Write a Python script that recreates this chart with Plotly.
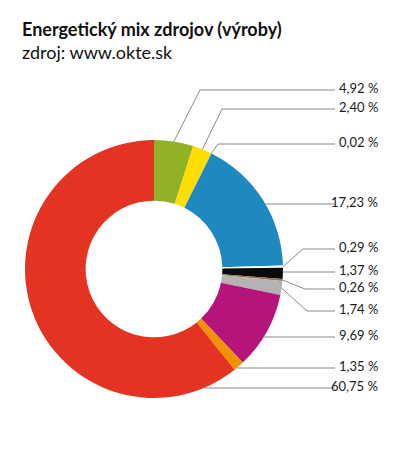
import math
import plotly.graph_objects as go

# ---- data ----
labels = ["4,92 %", "2,40 %", "0,02 %", "17,23 %", "0,29 %", "1,37 %",
          "0,26 %", "1,74 %", "9,69 %", "1,35 %", "60,75 %"]
values = [4.92, 2.40, 0.02, 17.23, 0.29, 1.37, 0.26, 1.74, 9.69, 1.35, 60.75]
colors = ["#93b127", "#ffdd00", "#6fb3d6", "#1f89bf", "#ffffff", "#0a0a0a",
          "#9a7440", "#b3b3b3", "#b5157b", "#f39200", "#e43323"]

# ---- layout (pixels) ----
W, H = 400, 450
CX, CY, R = 154, 269, 129
HOLE = 0.53
label_y = [90, 109, 144, 204, 249, 272, 289, 311, 337, 368, 388]
elbow_x = [200, 222, 218, None, 303, None, 305, 307, None, None, None]
LINE_END = 335
TEXT_RIGHT = 380

def px(x):
    return x / W

def py(y):
    return 1 - y / H

fig = go.Figure(go.Pie(
    values=values,
    labels=labels,
    marker=dict(colors=colors, line=dict(width=0)),
    hole=HOLE,
    sort=False,
    direction="clockwise",
    rotation=0,
    textinfo="none",
    hoverinfo="label",
    showlegend=False,
    domain=dict(x=[px(CX - R), px(CX + R)], y=[py(CY + R), py(CY - R)]),
))

total = sum(values)
shapes = []
annotations = []
cum = 0.0
for v, lab, ly, ex in zip(values, labels, label_y, elbow_x):
    mid = (cum + v / 2) / total * 2 * math.pi
    cum += v
    if ex is not None:
        ax = CX + R * math.sin(mid)
        ay = CY - R * math.cos(mid)
        path = f"M {px(ax)} {py(ay)} L {px(ex)} {py(ly)} L {px(LINE_END)} {py(ly)}"
    else:
        dy = ly - CY
        sx = CX + math.sqrt(max(R * R - dy * dy, 0))
        path = f"M {px(sx)} {py(ly)} L {px(LINE_END)} {py(ly)}"
    shapes.append(dict(type="path", xref="paper", yref="paper", path=path,
                       line=dict(color="#8a8a8a", width=1)))
    annotations.append(dict(x=px(TEXT_RIGHT), y=py(ly - 2), xref="paper", yref="paper",
                            text=lab, showarrow=False, xanchor="right", yanchor="middle",
                            font=dict(family="Lato", size=13, color="#1a1a1a")))

annotations.append(dict(x=px(20), y=py(29), xref="paper", yref="paper",
                        text="<b>Energetický mix zdrojov (výroby)</b>", showarrow=False,
                        xanchor="left", yanchor="middle",
                        font=dict(family="Lato", size=18, color="#111111")))
annotations.append(dict(x=px(20), y=py(52), xref="paper", yref="paper",
                        text="zdroj: www.okte.sk", showarrow=False,
                        xanchor="left", yanchor="middle",
                        font=dict(family="Lato", size=18, color="#111111")))

fig.update_layout(
    width=W, height=H,
    margin=dict(l=0, r=0, t=0, b=0),
    paper_bgcolor="white", plot_bgcolor="white",
    shapes=shapes, annotations=annotations,
)
fig.write_html("out.html", config={"displayModeBar": False},
               post_script="document.body.style.margin='0px';")
